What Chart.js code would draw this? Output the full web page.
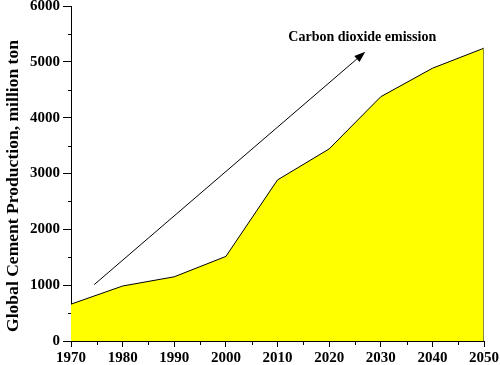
<!DOCTYPE html>
<html>
<head>
<meta charset="utf-8">
<script src="https://cdn.jsdelivr.net/npm/chart.js@4"></script>
<style>
html,body{margin:0;padding:0;background:#fff;}
#wrap{width:500px;height:365px;}
</style>
</head>
<body>
<div id="wrap"><canvas id="c" width="500" height="365"></canvas></div>
<script>
const years = [1970, 1980, 1990, 2000, 2010, 2020, 2030, 2040, 2050];
const production = [660, 985, 1150, 1515, 2885, 3440, 4375, 4885, 5245];
const yTicks = [0, 1000, 2000, 3000, 4000, 5000, 6000];
const xTicks = [1970, 1980, 1990, 2000, 2010, 2020, 2030, 2040, 2050];
const arrowFrom = [1974.5, 1010];
const arrowTo = [2027, 5180];
const annotationText = 'Carbon dioxide emission';
const annotationAt = [2027, 5430];
const yTitle = 'Global Cement Production, million ton';

const FONT = '"Liberation Serif", "Times New Roman", serif';

const extras = {
  id: 'extras',
  afterDraw(chart) {
    const ctx = chart.ctx, xs = chart.scales.x, ys = chart.scales.y;
    const area = chart.chartArea;
    ctx.save();
    ctx.strokeStyle = '#000';
    ctx.lineWidth = 1;
    // minor ticks
    ctx.beginPath();
    for (let v = 500; v < 6000; v += 1000) {
      const py = Math.round(ys.getPixelForValue(v)) + 0.5;
      ctx.moveTo(area.left - 3, py); ctx.lineTo(area.left, py);
    }
    for (let v = 1975; v < 2050; v += 10) {
      const px = Math.round(xs.getPixelForValue(v)) + 0.5;
      ctx.moveTo(px, area.bottom); ctx.lineTo(px, area.bottom + 4);
    }
    ctx.stroke();
    // right edge of filled area
    ctx.strokeStyle = '#8a8a3a';
    ctx.beginPath();
    const rx = xs.getPixelForValue(years[years.length - 1]) - 0.5;
    ctx.moveTo(rx, ys.getPixelForValue(production[production.length - 1]));
    ctx.lineTo(rx, ys.getPixelForValue(0));
    ctx.stroke();
    // arrow
    const x1 = xs.getPixelForValue(arrowFrom[0]), y1 = ys.getPixelForValue(arrowFrom[1]);
    const x2 = xs.getPixelForValue(arrowTo[0]), y2 = ys.getPixelForValue(arrowTo[1]);
    const ang = Math.atan2(y2 - y1, x2 - x1);
    const hl = 11, hw = 4;
    const bx = x2 - hl * Math.cos(ang), by = y2 - hl * Math.sin(ang);
    ctx.strokeStyle = '#000';
    ctx.beginPath();
    ctx.moveTo(x1, y1); ctx.lineTo(bx, by);
    ctx.stroke();
    ctx.fillStyle = '#000';
    ctx.beginPath();
    ctx.moveTo(x2, y2);
    ctx.lineTo(bx + hw * Math.sin(ang), by - hw * Math.cos(ang));
    ctx.lineTo(bx - hw * Math.sin(ang), by + hw * Math.cos(ang));
    ctx.closePath();
    ctx.fill();
    // annotation text
    ctx.font = 'bold 14px ' + FONT;
    ctx.textAlign = 'center';
    ctx.textBaseline = 'middle';
    ctx.fillText(annotationText, xs.getPixelForValue(annotationAt[0]) - 3, ys.getPixelForValue(annotationAt[1]));
    // y title
    ctx.translate(14, 186);
    ctx.rotate(-Math.PI / 2);
    ctx.font = 'bold 17px ' + FONT;
    const w = ctx.measureText(yTitle).width;
    ctx.scale(292 / w, 1);
    ctx.fillText(yTitle, 0, 0);
    ctx.restore();
  }
};

new Chart(document.getElementById('c'), {
  type: 'line',
  data: {
    datasets: [{
      data: years.map((y, i) => ({x: y, y: production[i]})),
      borderColor: '#000',
      borderWidth: 1,
      backgroundColor: '#ffff00',
      fill: 'origin',
      pointRadius: 0,
      tension: 0
    }]
  },
  options: {
    responsive: false,
    animation: false,
    devicePixelRatio: 1,
    layout: {padding: {top: 6, right: 16, left: 0, bottom: 0}},
    plugins: {legend: {display: false}, tooltip: {enabled: false}},
    scales: {
      x: {
        type: 'linear',
        min: 1970, max: 2050,
        afterBuildTicks: s => { s.ticks = xTicks.map(v => ({value: v})); },
        afterFit: s => { s.height = 24; s.paddingLeft = 0; s.paddingRight = 0; },
        border: {display: true, color: '#000', width: 1},
        grid: {display: true, drawOnChartArea: false, drawTicks: true, tickLength: 6, color: '#000'},
        ticks: {color: '#000', font: {family: FONT, weight: 'bold', size: 15}, padding: 2, maxRotation: 0,
                callback: v => String(v)}
      },
      y: {
        min: 0, max: 6000,
        afterBuildTicks: s => { s.ticks = yTicks.map(v => ({value: v})); },
        afterFit: s => { s.width = 71; s.paddingTop = 0; s.paddingBottom = 0; },
        border: {display: true, color: '#000', width: 1},
        grid: {display: true, drawOnChartArea: false, drawTicks: true, tickLength: 8, color: '#000'},
        ticks: {color: '#000', font: {family: FONT, weight: 'bold', size: 15}, padding: 3,
                callback: v => String(v)}
      }
    }
  },
  plugins: [extras]
});
</script>
</body>
</html>
